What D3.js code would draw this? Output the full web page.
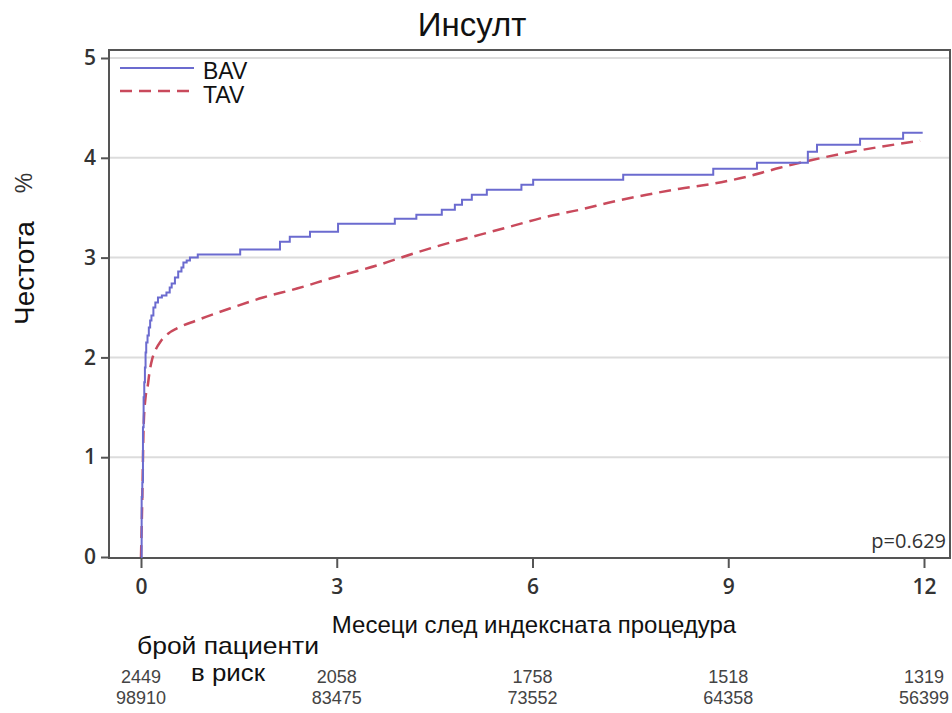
<!DOCTYPE html>
<html>
<head>
<meta charset="utf-8">
<script src="https://cdn.jsdelivr.net/npm/d3@7"></script>
<style>
body { margin: 0; background: #fff; }
svg { display: block; }
</style>
</head>
<body>
<svg id="chart" width="952" height="713"></svg>
<script>
// months / cumulative incidence %
var bavMonths = [0, 0.01, 0.02, 0.03, 0.04, 0.05, 0.06, 0.07, 0.08, 0.1, 0.12, 0.14, 0.16, 0.19, 0.22, 0.26, 0.32, 0.39, 0.44, 0.47, 0.52, 0.57, 0.62, 0.65, 0.7, 0.75, 0.87,
    1.52, 2.13, 2.28, 2.59, 3.02, 3.89, 4.22, 4.61, 4.81, 4.92, 5.07, 5.30, 5.83, 6.01, 7.39, 8.77, 9.44, 10.22, 10.36, 11.02, 11.68, 11.98];
var bavRate = [0, 0.6, 0.75, 1.3, 1.6, 1.75, 1.9, 2.05, 2.15, 2.22, 2.3, 2.37, 2.42, 2.5, 2.55, 2.6, 2.62, 2.65, 2.7, 2.74, 2.8, 2.86, 2.9, 2.95, 2.97, 3.0, 3.03,
    3.08, 3.16, 3.21, 3.26, 3.34, 3.39, 3.43, 3.48, 3.53, 3.58, 3.63, 3.68, 3.73, 3.78, 3.83, 3.89, 3.95, 4.06, 4.13, 4.19, 4.25, 4.25];

var tavMonths = [0, 0.02, 0.04, 0.07, 0.1, 0.13, 0.17, 0.22, 0.3, 0.42, 0.55, 0.85, 1.36, 1.87, 2.39, 2.90, 3.66, 4.17, 4.68, 5.20, 5.71, 6.22, 6.73, 7.23, 7.75, 8.26, 8.77, 9.28, 9.79, 10.30, 10.81, 11.33, 11.94];
var tavRate = [0, 0.6, 1.3, 1.6, 1.7, 1.85, 1.98, 2.07, 2.16, 2.24, 2.29, 2.37, 2.49, 2.6, 2.69, 2.79, 2.93, 3.04, 3.14, 3.23, 3.32, 3.41, 3.48, 3.56, 3.63, 3.69, 3.74, 3.81, 3.9, 3.98, 4.05, 4.11, 4.17];

var xTicks = [0, 3, 6, 9, 12];
var yTicks = [0, 1, 2, 3, 4, 5];
var atRiskBav = ["2449", "2058", "1758", "1518", "1319"];
var atRiskTav = ["98910", "83475", "73552", "64358", "56399"];

var bavColor = "#6b6bcf";
var tavColor = "#c94a5c";

var svg = d3.select("#chart");

var frame = {left: 109, top: 50, right: 950, bottom: 558};

var x = d3.scaleLinear().domain([0, 12]).range([141, 924]);
var y = d3.scaleLinear().domain([0, 5]).range([557, 58]);

// grid
svg.append("g")
    .selectAll("line")
    .data(yTicks.slice(1))
    .enter()
    .append("line")
    .attr("x1", frame.left)
    .attr("x2", frame.right)
    .attr("y1", function(d) { return y(d); })
    .attr("y2", function(d) { return y(d); })
    .attr("stroke", "#dcdcdc")
    .attr("stroke-width", 2);

// frame
svg.append("rect")
    .attr("x", frame.left)
    .attr("y", frame.top)
    .attr("width", frame.right - frame.left)
    .attr("height", frame.bottom - frame.top)
    .attr("fill", "none")
    .attr("stroke", "#555")
    .attr("stroke-width", 2);

// axes
var yAxis = d3.axisLeft(y).tickValues(yTicks).tickFormat(d3.format("d")).tickSize(8).tickPadding(5);
var gy = svg.append("g")
    .attr("transform", "translate(" + frame.left + ",0)")
    .call(yAxis);

var xAxis = d3.axisBottom(x).tickValues(xTicks).tickFormat(d3.format("d")).tickSize(10).tickPadding(11);
var gx = svg.append("g")
    .attr("transform", "translate(0," + frame.bottom + ")")
    .call(xAxis);

[gx, gy].forEach(function(g) {
    g.select(".domain").remove();
    g.selectAll(".tick line").attr("stroke", "#555").attr("stroke-width", 2);
    g.selectAll(".tick text")
        .attr("fill", "#333")
        .style("font-family", "'Open Sans', sans-serif")
        .style("font-size", "21px")
        .style("font-weight", "600");
});

// curves
var bavLine = d3.line()
    .x(function(d) { return x(d[0]); })
    .y(function(d) { return y(d[1]); })
    .curve(d3.curveStepAfter);

var tavLine = d3.line()
    .x(function(d) { return x(d[0]); })
    .y(function(d) { return y(d[1]); })
    .curve(d3.curveMonotoneX);

svg.append("path")
    .datum(d3.zip(tavMonths, tavRate))
    .attr("d", tavLine)
    .attr("fill", "none")
    .attr("stroke", tavColor)
    .attr("stroke-width", 2.5)
    .attr("stroke-dasharray", "12,7");

svg.append("path")
    .datum(d3.zip(bavMonths, bavRate))
    .attr("d", bavLine)
    .attr("fill", "none")
    .attr("stroke", bavColor)
    .attr("stroke-width", 2);

// legend
var legend = svg.append("g").attr("transform", "translate(120,68)");
legend.append("line")
    .attr("x1", 0).attr("x2", 74).attr("y1", 0).attr("y2", 0)
    .attr("stroke", bavColor).attr("stroke-width", 2);
legend.append("line")
    .attr("x1", 0).attr("x2", 74).attr("y1", 23).attr("y2", 23)
    .attr("stroke", tavColor).attr("stroke-width", 2.5).attr("stroke-dasharray", "12,7");
legend.append("text").attr("x", 83).attr("y", 11).text("BAV");
legend.append("text").attr("x", 83).attr("y", 35).text("TAV");
legend.selectAll("text")
    .style("font-family", "'Liberation Sans', Arial, sans-serif")
    .style("font-size", "23px")
    .attr("fill", "#111");

// p value
svg.append("text")
    .attr("x", 946)
    .attr("y", 548)
    .attr("text-anchor", "end")
    .style("font-family", "'Open Sans', sans-serif")
    .style("font-size", "20px")
    .attr("fill", "#333")
    .text("p=0.629");

// title
svg.append("text")
    .attr("x", 472)
    .attr("y", 36)
    .attr("text-anchor", "middle")
    .style("font-family", "'Liberation Sans', Arial, sans-serif")
    .style("font-size", "33px")
    .attr("fill", "#111")
    .text("Инсулт");

// y label
svg.append("text")
    .attr("transform", "translate(34,273) rotate(-90)")
    .attr("text-anchor", "middle")
    .style("font-family", "'Liberation Sans', Arial, sans-serif")
    .style("font-size", "28px")
    .attr("fill", "#111")
    .text("Честота");
svg.append("text")
    .attr("transform", "translate(32,183) rotate(-90)")
    .attr("text-anchor", "middle")
    .style("font-family", "'Liberation Sans', Arial, sans-serif")
    .style("font-size", "23px")
    .attr("fill", "#333")
    .text("%");

// x label
svg.append("text")
    .attr("x", 534)
    .attr("y", 633)
    .attr("text-anchor", "middle")
    .style("font-family", "'Liberation Sans', Arial, sans-serif")
    .style("font-size", "24px")
    .attr("fill", "#111")
    .text("Месеци след индексната процедура");

svg.append("text")
    .attr("x", 228)
    .attr("y", 654)
    .attr("text-anchor", "middle")
    .attr("textLength", 182)
    .attr("lengthAdjust", "spacingAndGlyphs")
    .style("font-family", "'Liberation Sans', Arial, sans-serif")
    .style("font-size", "24px")
    .attr("fill", "#111")
    .text("брой пациенти");
svg.append("text")
    .attr("x", 228)
    .attr("y", 681)
    .attr("text-anchor", "middle")
    .attr("textLength", 74)
    .attr("lengthAdjust", "spacingAndGlyphs")
    .style("font-family", "'Liberation Sans', Arial, sans-serif")
    .style("font-size", "24px")
    .attr("fill", "#111")
    .text("в риск");

// numbers at risk
var risk = svg.append("g")
    .style("font-family", "'Liberation Sans', Arial, sans-serif")
    .style("font-size", "18px")
    .attr("fill", "#444")
    .attr("text-anchor", "middle");
risk.selectAll("text.bav")
    .data(atRiskBav)
    .enter()
    .append("text")
    .attr("class", "bav")
    .attr("x", function(d, i) { return x(xTicks[i]); })
    .attr("y", 683)
    .text(function(d) { return d; });
risk.selectAll("text.tav")
    .data(atRiskTav)
    .enter()
    .append("text")
    .attr("class", "tav")
    .attr("x", function(d, i) { return x(xTicks[i]); })
    .attr("y", 704)
    .text(function(d) { return d; });
</script>
</body>
</html>
